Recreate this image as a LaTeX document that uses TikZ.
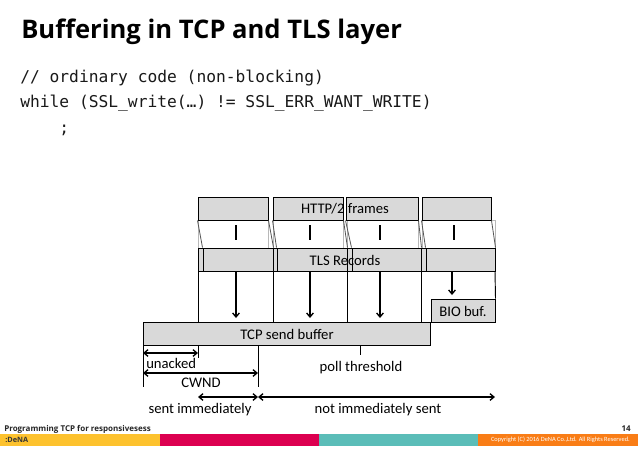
\documentclass[tikz,border=0pt]{standalone}
\usepackage{fontspec}
\setmainfont{Carlito}
\newfontfamily\titlefont{Open Sans}
\newfontfamily\codefont{DejaVu Sans Mono}
\usetikzlibrary{fit,arrows.meta}
\definecolor{boxgray}{HTML}{D9D9D9}
\definecolor{thingray}{HTML}{B8B8B8}
\definecolor{diaggray}{HTML}{555555}
\definecolor{barYellow}{HTML}{FDC22E}
\definecolor{barRed}{HTML}{DC0050}
\definecolor{barTeal}{HTML}{5BBDB8}
\definecolor{barOrange}{HTML}{F97D16}
\tikzset{
  box/.style={draw=black, line width=0.75pt, fill=boxgray, inner sep=0pt},
  slot/.style={draw=thingray, line width=0.5pt, inner sep=0pt},
  diag/.style={draw=diaggray, line width=0.6pt},
  colline/.style={draw=black, line width=0.7pt},
  stub/.style={draw=black, line width=1pt},
  darrow/.style={draw=black, line width=1pt, -{Straight Barb[length=3pt,width=5pt]}},
  dbl/.style={draw=black, line width=1pt, {Straight Barb[length=3pt,width=5pt]}-{Straight Barb[length=3pt,width=5pt]}},
  lbl/.style={font=\fontsize{11}{13}\selectfont, inner sep=0pt},
  bar/.style={inner sep=0pt, draw=none},
}
\begin{document}
\begin{tikzpicture}[x=0.75pt,y=-0.75pt]
\useasboundingbox (0,0) rectangle (638,451);
\fill[white] (0,0) rectangle (638,451);

% title and code
\node[anchor=base west, inner sep=0pt, font=\titlefont\bfseries\fontsize{19.2}{21}\selectfont] (title) at (21,38) {Buffering in TCP and TLS layer};
\node[anchor=base west, inner sep=0pt, font=\codefont\fontsize{12.2}{14}\selectfont, text=black!90] (code1) at (20,82) {// ordinary code (non-blocking)};
\node[anchor=base west, inner sep=0pt, font=\codefont\fontsize{12.2}{14}\selectfont, text=black!90] (code2) at (20,107) {while (SSL\_write(…) != SSL\_ERR\_WANT\_WRITE)};
\node[anchor=base west, inner sep=0pt, font=\codefont\fontsize{12.2}{14}\selectfont, text=black!90] (code3) at (59,133) {;};

% thin slot rectangles between HTTP/2 frames and TLS records
\node[slot, fit={(198,220)(268,248)}] (s1) {};
\node[slot, fit={(273,220)(343,248)}] (s2) {};
\node[slot, fit={(347,220)(418,248)}] (s3) {};
\node[slot, fit={(422,220)(495,248)}] (s4) {};

% HTTP/2 frames
\node[box, fit={(198,197)(268,220)}] (h1) {};
\node[box, fit={(273,197)(343,220)}] (h2) {};
\node[box, fit={(346,197)(418,220)}] (h3) {};
\node[box, fit={(422,197)(491,220)}] (h4) {};
\node[lbl] (hlabel) at (345,209) {HTTP/2 frames};

% TLS records
\node[box, fit={(198,248)(203,271)}] (th1) {};
\node[box, fit={(203,248)(273,271)}] (t1) {};
\node[box, fit={(273,248)(277,271)}] (th2) {};
\node[box, fit={(277,248)(347,271)}] (t2) {};
\node[box, fit={(347,248)(352,271)}] (th3) {};
\node[box, fit={(352,248)(421,271)}] (t3) {};
\node[box, fit={(421,248)(426,271)}] (th4) {};
\node[box, fit={(426,248)(495,271)}] (t4) {};
\node[lbl] (tlabel) at (345,260) {TLS Records};

% diagonals frame -> record
\draw[diag] (h1.south west) -- (t1.north west);
\draw[diag] (h1.south east) -- (t1.north east);
\draw[diag] (h2.south west) -- (t2.north west);
\draw[diag] (h2.south east) -- (t2.north east);
\draw[diag] (h3.south west) -- (t3.north west);
\draw[diag] (h3.south east) -- (t3.north east);
\draw[diag] (h4.south west) -- (t4.north west);
\draw[diag] (h4.south east) -- (t4.north east);

% stubs from frames
\coordinate (u1a) at (236,225); \coordinate (u1b) at (236,240);
\coordinate (u2a) at (310,225); \coordinate (u2b) at (310,240);
\coordinate (u3a) at (380,225); \coordinate (u3b) at (380,240);
\coordinate (u4a) at (454,225); \coordinate (u4b) at (454,240);
\draw[stub] (u1a) -- (u1b);
\draw[stub] (u2a) -- (u2b);
\draw[stub] (u3a) -- (u3b);
\draw[stub] (u4a) -- (u4b);

% TCP send buffer and BIO buf
\node[box, fit={(143,322)(430,345)}] (tcp) {};
\node[lbl] (tcplabel) at (287,334) {TCP send buffer};
\node[box, fit={(431,299)(495,322)}] (bio) {};
\node[lbl] (biolabel) at (463,311) {BIO buf.};

% column lines
\coordinate (c1a) at (198,271); \coordinate (c1b) at (198,322);
\coordinate (c2a) at (273,271); \coordinate (c2b) at (273,322);
\coordinate (c3a) at (347,271); \coordinate (c3b) at (347,322);
\coordinate (c4a) at (421.5,271); \coordinate (c4b) at (421.5,322);
\coordinate (c5a) at (495,271);
\draw[colline] (c1a) -- (c1b);
\draw[colline] (c2a) -- (c2b);
\draw[colline] (c3a) -- (c3b);
\draw[colline] (c4a) -- (c4b);
\draw[colline] (c5a) -- (bio.north east);

% arrows records -> buffers
\coordinate (a1a) at (236,271); \coordinate (a1b) at (236,318);
\coordinate (a2a) at (310,271); \coordinate (a2b) at (310,318);
\coordinate (a3a) at (380,271); \coordinate (a3b) at (380,318);
\coordinate (a4a) at (452,271); \coordinate (a4b) at (452,295);
\draw[darrow] (a1a) -- (a1b);
\draw[darrow] (a2a) -- (a2b);
\draw[darrow] (a3a) -- (a3b);
\draw[darrow] (a4a) -- (a4b);

% ticks below TCP buffer
\coordinate (k0a) at (143,345); \coordinate (k0b) at (143,387);
\coordinate (k1a) at (198,345); \coordinate (k1b) at (198,358);
\coordinate (k2a) at (258,345); \coordinate (k2b) at (258,387);
\coordinate (k3a) at (360,345); \coordinate (k3b) at (360,355);
\draw[colline] (k0a) -- (k0b);
\draw[colline] (k1a) -- (k1b);
\draw[colline] (k2a) -- (k2b);
\draw[colline] (k3a) -- (k3b);

% measure arrows
\coordinate (m1a) at (143,353); \coordinate (m1b) at (198,353);
\coordinate (m2a) at (143,373); \coordinate (m2b) at (258,373);
\coordinate (m3a) at (198,397); \coordinate (m3b) at (258,397);
\coordinate (m4a) at (258,397); \coordinate (m4b) at (495,397);
\draw[dbl] (m1a) -- (m1b);
\draw[dbl] (m2a) -- (m2b);
\draw[dbl] (m3a) -- (m3b);
\draw[dbl] (m4a) -- (m4b);

\node[lbl, anchor=west] (unacked) at (146,363) {unacked};
\node[lbl] (cwnd) at (201,383) {CWND};
\node[lbl] (poll) at (361,368) {poll threshold};
\node[lbl] (sentim) at (200,410) {sent immediately};
\node[lbl] (notsent) at (378,410) {not immediately sent};

% footer
\node[bar, fill=barYellow, fit={(0,434)(160,446)}] (fy) {};
\node[bar, fill=barRed, fit={(160,434)(319,446)}] (fr) {};
\node[bar, fill=barTeal, fit={(319,434)(478,446)}] (ft) {};
\node[bar, fill=barOrange, fit={(478,434)(638,446)}] (fo) {};
\node[anchor=west, inner sep=0pt, font=\titlefont\bfseries\fontsize{6}{7}\selectfont, text=black!85] (ftitle) at (4,429) {Programming TCP for responsivesess};
\node[anchor=east, inner sep=0pt, font=\titlefont\bfseries\fontsize{6}{7}\selectfont, text=black!85] (fpage) at (631,429) {14};
\node[anchor=west, inner sep=0pt, font=\titlefont\bfseries\fontsize{5.5}{7}\selectfont, text=black!80] (logo) at (5,440) {:DeNA};
\node[anchor=east, inner sep=0pt, font=\fontsize{4.8}{6}\selectfont, text=white] (copy) at (630,440) {Copyright (C) 2016 DeNA Co.,Ltd. All Rights Reserved.};
\end{tikzpicture}
\end{document}
